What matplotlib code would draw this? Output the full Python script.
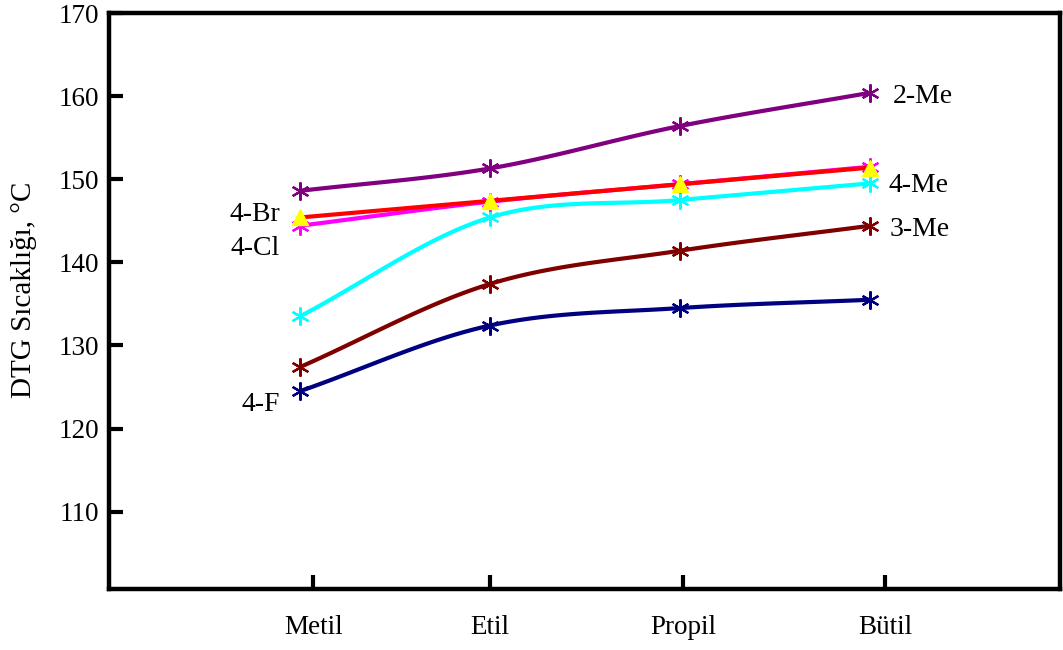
import numpy as np
import matplotlib
matplotlib.use("Agg")
import matplotlib.pyplot as plt

# ---- data ----
categories = ["Metil", "Etil", "Propil", "Bütil"]
me2 = [148.6, 151.3, 156.4, 160.4]
br4 = [145.4, 147.4, 149.4, 151.4]
cl4 = [144.4, 147.3, 149.4, 151.5]
me4 = [133.5, 145.4, 147.5, 149.5]
me3 = [127.4, 137.4, 141.4, 144.4]
f4 = [124.5, 132.4, 134.5, 135.5]
yticks = [110, 120, 130, 140, 150, 160, 170]

plt.rcParams['font.family'] = ['Liberation Serif', 'DejaVu Serif']

fig = plt.figure(figsize=(10.63, 6.5), dpi=100)
ax = fig.add_axes([109/1063, 1-589/650, (1060-109)/1063, (589-13)/650])

x = np.arange(len(categories), dtype=float)


def smooth(xs, ys, n=40):
    xs = np.asarray(xs, float); ys = np.asarray(ys, float)
    px = np.concatenate([[2*xs[0]-xs[1]], xs, [2*xs[-1]-xs[-2]]])
    py = np.concatenate([[2*ys[0]-ys[1]], ys, [2*ys[-1]-ys[-2]]])
    ox, oy = [], []
    t = np.linspace(0, 1, n)
    for i in range(1, len(px)-2):
        for P, out in ((px, ox), (py, oy)):
            p0, p1, p2, p3 = P[i-1], P[i], P[i+1], P[i+2]
            out.extend(0.5*((2*p1) + (-p0+p2)*t + (2*p0-5*p1+4*p2-p3)*t**2
                            + (-p0+3*p1-3*p2+p3)*t**3))
    return np.array(ox), np.array(oy)


star = (6, 2, 0)
lw = 3.0
series = [
    (me2, "#800080"),
    (me4, "#00FFFF"),
    (cl4, "#FF00FF"),
    (me3, "#800000"),
    (f4, "#000080"),
]
for ys, c in series:
    sx, sy = smooth(x, ys)
    ax.plot(sx, sy, color=c, lw=lw, solid_capstyle='butt', zorder=2)
    ax.plot(x, ys, linestyle='none', marker=star, ms=13, mew=1.6, color=c, zorder=3)

sx, sy = smooth(x, br4)
ax.plot(sx, sy, color="#FF0000", lw=lw, zorder=4)
ax.plot(x, br4, linestyle='none', marker='^', ms=11, color="#FFFF00",
        markeredgecolor="#FFFF00", zorder=5)

ax.set_xlim(-1.005, 4.0)
ax.set_ylim(100.7, 170)

ax.set_xticks([0.07, 1.0, 2.016, 3.08])
ax.set_xticklabels(categories)
ax.set_yticks(yticks)
ax.tick_params(axis='both', direction='in', length=10, width=3, labelsize=19.5)
ax.tick_params(axis='x', pad=19)
ax.tick_params(axis='y', pad=7)
for s in ax.spines.values():
    s.set_linewidth(3.2)

ax.set_ylabel("DTG Sıcaklığı, °C", fontsize=21)
ax.yaxis.set_label_coords(-0.076, 0.519)

fs = 20
ax.text(3.12, 159.9, "2-Me", fontsize=fs, ha='left', va='center')
ax.text(3.095, 149.3, "4-Me", fontsize=fs, ha='left', va='center')
ax.text(3.105, 143.9, "3-Me", fontsize=fs, ha='left', va='center')
ax.text(-0.105, 145.8, "4-Br", fontsize=fs, ha='right', va='center')
ax.text(-0.105, 141.7, "4-Cl", fontsize=fs, ha='right', va='center')
ax.text(-0.105, 122.9, "4-F", fontsize=fs, ha='right', va='center')

fig.savefig("out.png", dpi=100)
